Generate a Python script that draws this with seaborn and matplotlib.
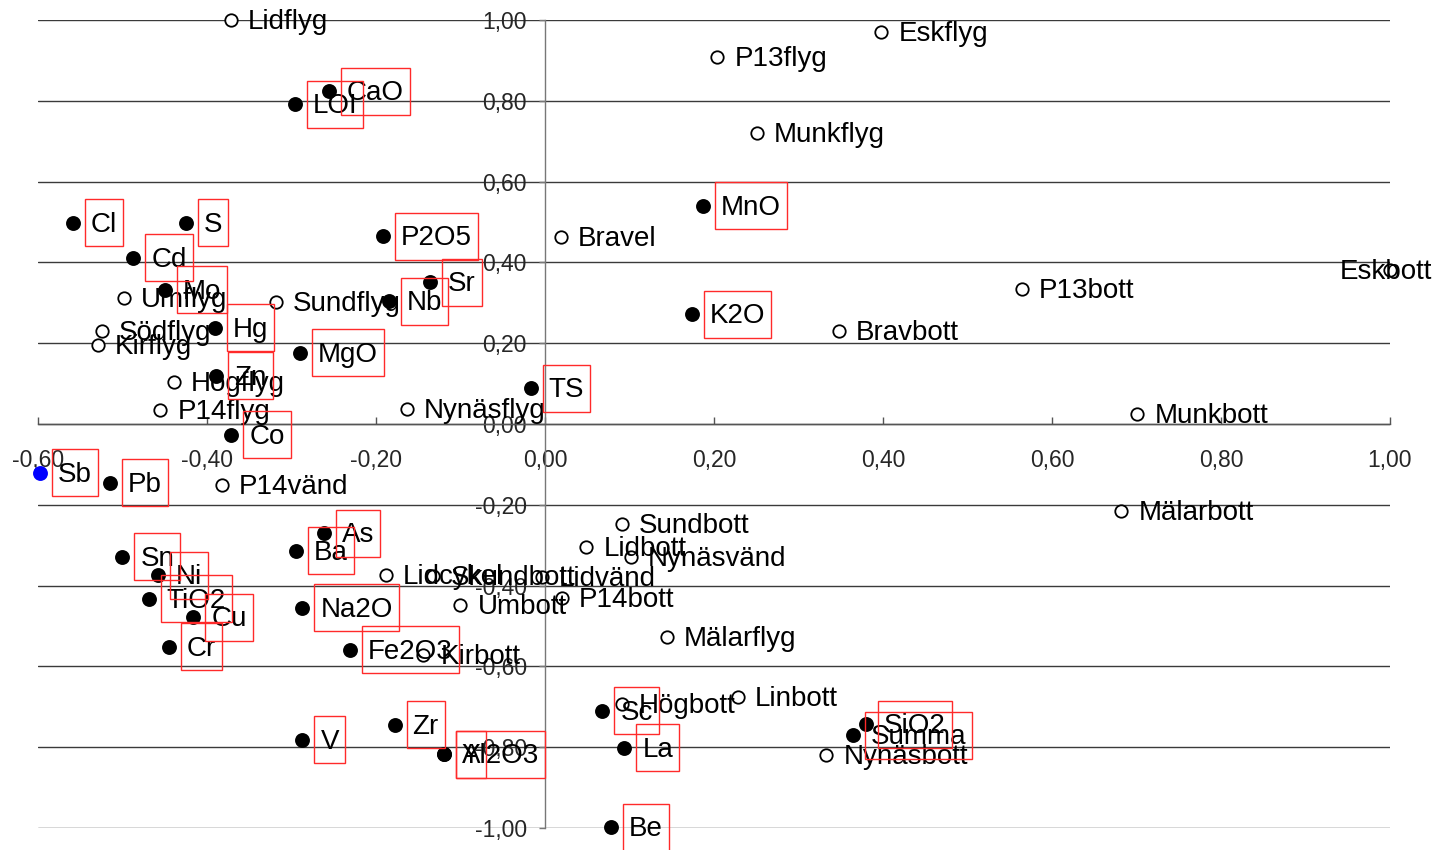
import matplotlib
matplotlib.use("Agg")
import matplotlib.pyplot as plt
import matplotlib.ticker as mticker
from matplotlib.patches import Rectangle
import pandas as pd
import seaborn as sns

# ── Data ──────────────────────────────────────────────────────────────────────
sample_names = [
    "Lidflyg", "Eskflyg", "P13flyg", "Munkflyg", "Bravel", "Eskbott", "P13bott",
    "Bravbott", "Munkbott", "Mälarbott", "Sundbott", "Lidbott", "Nynäsvänd",
    "Lidcykel", "Skundbott", "Lidvänd", "Umbott", "P14bott", "Mälarflyg",
    "Kirbott", "Linbott", "Högbott", "Nynäsbott", "P14vänd", "Nynäsflyg",
    "Sundflyg", "Umflyg", "Södflyg", "Kirflyg", "Högflyg", "P14flyg",
]
sample_x = [
    -0.372, 0.398, 0.204, 0.251, 0.019, 1.000, 0.564,
    0.348, 0.701, 0.682, 0.091, 0.049, 0.102,
    -0.188, -0.132, -0.004, -0.100, 0.020, 0.144,
    -0.144, 0.228, 0.091, 0.333, -0.382, -0.163,
    -0.318, -0.498, -0.524, -0.529, -0.439, -0.455,
]
sample_y = [
    1.000, 0.971, 0.909, 0.720, 0.463, 0.381, 0.334,
    0.230, 0.025, -0.215, -0.248, -0.304, -0.329,
    -0.374, -0.376, -0.379, -0.448, -0.431, -0.527,
    -0.572, -0.676, -0.693, -0.819, -0.151, 0.037,
    0.302, 0.312, 0.230, 0.196, 0.104, 0.035,
]

var_names = [
    "LOI", "CaO", "Cl", "S", "Cd", "Mo", "Hg", "Zn", "Co", "P2O5", "Sr", "Nb",
    "MgO", "TS", "MnO", "K2O", "Sb", "Pb", "As", "Ba", "Sn", "Ni", "TiO2", "Cu",
    "Cr", "Na2O", "Fe2O3", "Zr", "V", "Y", "Al2O3", "Sc", "La", "Be", "SiO2",
    "Summa",
]
var_x = [
    -0.296, -0.256, -0.559, -0.425, -0.487, -0.450, -0.391, -0.389, -0.371,
    -0.192, -0.136, -0.185, -0.290, -0.017, 0.187, 0.174, -0.598, -0.515,
    -0.262, -0.295, -0.500, -0.458, -0.469, -0.416, -0.445, -0.287, -0.231,
    -0.178, -0.287, -0.120, -0.120, 0.068, 0.094, 0.078, 0.380, 0.364,
]
var_y = [
    0.792, 0.824, 0.498, 0.498, 0.411, 0.332, 0.238, 0.119, -0.027,
    0.465, 0.351, 0.304, 0.176, 0.089, 0.540, 0.272, -0.121, -0.146,
    -0.270, -0.314, -0.329, -0.374, -0.433, -0.478, -0.552, -0.455, -0.559,
    -0.745, -0.782, -0.817, -0.817, -0.710, -0.802, -0.998, -0.743, -0.770,
]
highlight = "Sb"

x_ticks = [-0.6, -0.4, -0.2, 0.0, 0.2, 0.4, 0.6, 0.8, 1.0]
y_ticks = [-1.0, -0.8, -0.6, -0.4, -0.2, 0.0, 0.2, 0.4, 0.6, 0.8, 1.0]

# ── Style ─────────────────────────────────────────────────────────────────────
sns.set_theme(style="white")
plt.rcParams["font.family"] = ["Liberation Sans", "DejaVu Sans"]
LABEL_SIZE = 20
TICK_SIZE = 16.5

samples = pd.DataFrame({"name": sample_names, "x": sample_x, "y": sample_y})
variables = pd.DataFrame({"name": var_names, "x": var_x, "y": var_y})
variables["hi"] = variables["name"] == highlight

fig = plt.figure(figsize=(14.38, 8.5), dpi=100)
ax = fig.add_axes([0.0264, 0.0259, 0.9402, 0.9506])

# points
sns.scatterplot(data=samples, x="x", y="y", ax=ax, s=80, marker="o",
                facecolor="white", edgecolor="black", linewidth=1.3,
                clip_on=False, zorder=3)
sns.scatterplot(data=variables[~variables["hi"]], x="x", y="y", ax=ax, s=115,
                color="black", edgecolor="black", linewidth=0,
                clip_on=False, zorder=3)
sns.scatterplot(data=variables[variables["hi"]], x="x", y="y", ax=ax, s=115,
                color="blue", edgecolor="blue", linewidth=0,
                clip_on=False, zorder=3)

# axes crossing at origin
ax.set_xlim(-0.6, 1.0)
ax.set_ylim(-1.0, 1.0)
ax.spines["bottom"].set_position(("data", 0))
ax.spines["left"].set_position(("data", 0))
for side in ("top", "right"):
    ax.spines[side].set_visible(False)
ax.spines["bottom"].set_color("#555555")
ax.spines["left"].set_color("#777777")
ax.spines["bottom"].set_linewidth(1.0)
ax.spines["left"].set_linewidth(1.0)

ax.set_xticks(x_ticks)
ax.set_yticks(y_ticks)
fmt = mticker.FuncFormatter(lambda v, _: f"{v:.2f}".replace(".", ",").replace("-0,00", "0,00"))
ax.xaxis.set_major_formatter(fmt)
ax.yaxis.set_major_formatter(fmt)
ax.tick_params(axis="x", direction="in", length=5, width=1, color="#555555",
               pad=18, labelsize=TICK_SIZE, bottom=True)
ax.tick_params(axis="y", direction="out", length=4, width=1, color="#777777",
               pad=9, labelsize=TICK_SIZE, left=True)
ax.yaxis.grid(True, color="#3a3a3a", linewidth=1.0)
ax.xaxis.grid(False)
ax.set_axisbelow(True)
ax.set_xlabel("")
ax.set_ylabel("")

# labels
label_offset = {"Eskbott": (-50, -2)}
for _, r in samples.iterrows():
    ax.annotate(r["name"], (r["x"], r["y"]), xytext=label_offset.get(r["name"], (17, -2)),
                textcoords="offset pixels", va="center", ha="left",
                fontsize=LABEL_SIZE, color="black", annotation_clip=False, zorder=4)

var_texts = []
for _, r in variables.iterrows():
    t = ax.annotate(r["name"], (r["x"], r["y"]), xytext=(18, -2),
                    textcoords="offset pixels", va="center", ha="left",
                    fontsize=LABEL_SIZE, color="black", annotation_clip=False, zorder=4)
    var_texts.append((t, r["x"], r["y"]))

# red frames around the variable labels
fig.canvas.draw()
renderer = fig.canvas.get_renderer()
for t, x, y in var_texts:
    bb = t.get_window_extent(renderer)
    _, py = ax.transData.transform((x, y))
    fig.add_artist(Rectangle((bb.x0 - 6, py - 23.5), bb.width + 12, 47,
                             transform=None, fill=False, edgecolor="#ff2a2a",
                             linewidth=1.0, zorder=5))

fig.savefig("out.png", dpi=100)
